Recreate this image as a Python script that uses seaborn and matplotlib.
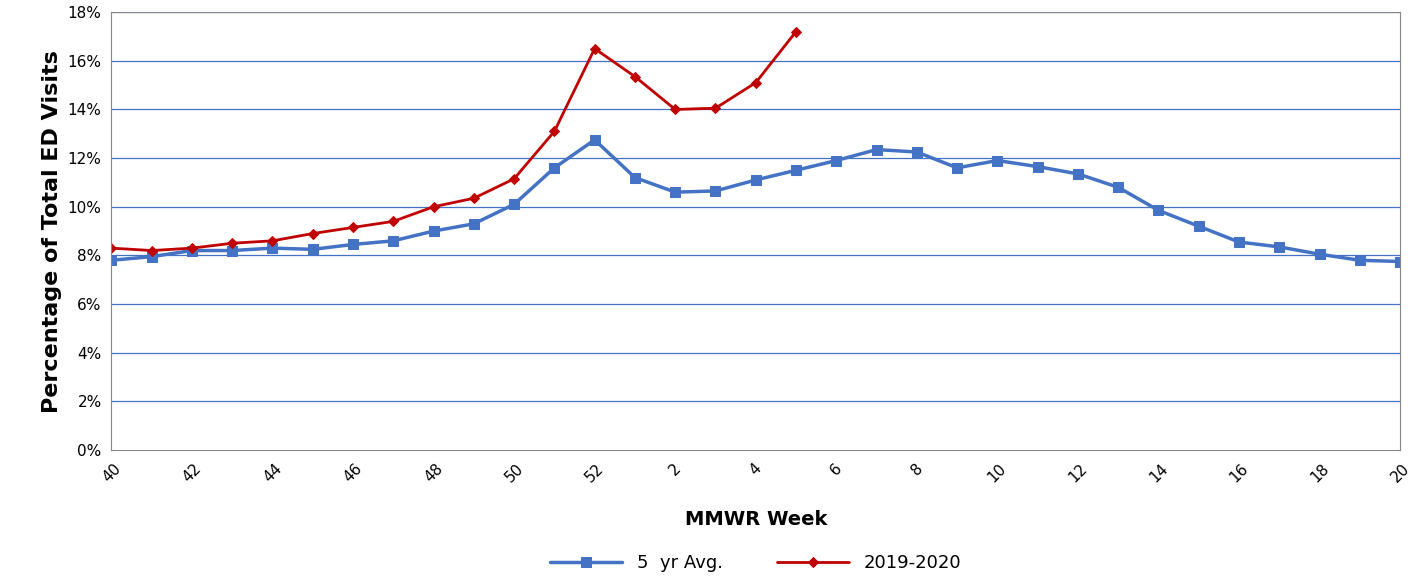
import matplotlib
matplotlib.use("Agg")
import matplotlib.pyplot as plt
import seaborn as sns
import pandas as pd

weeks = list(range(40, 53)) + list(range(1, 21))
avg5 = [7.8, 7.95, 8.2, 8.2, 8.3, 8.25, 8.45, 8.6, 9.0, 9.3, 10.1, 11.6, 12.75,
        11.2, 10.6, 10.65, 11.1, 11.5, 11.9, 12.35, 12.25, 11.6, 11.9, 11.65, 11.35,
        10.8, 9.85, 9.2, 8.55, 8.35, 8.05, 7.8, 7.75]
cur = [8.3, 8.2, 8.3, 8.5, 8.6, 8.9, 9.15, 9.4, 10.0, 10.35, 11.15, 13.1, 16.5,
       15.35, 14.0, 14.05, 15.1, 17.2]

df = pd.DataFrame({"pos": range(len(weeks)), "week": weeks, "avg": avg5})
df2 = pd.DataFrame({"pos": range(len(cur)), "val": cur})

sns.set_style("white")
plt.rcParams["font.family"] = ["DejaVu Sans"]
plt.rcParams["text.color"] = "black"
fig, ax = plt.subplots(figsize=(14.1, 5.77), dpi=100)
fig.subplots_adjust(left=0.079, right=0.993, top=0.979, bottom=0.22)

for y in range(2, 19, 2):
    ax.axhline(y, color="#4472c4", lw=0.9, zorder=0)

sns.lineplot(data=df, x="pos", y="avg", ax=ax, color="#4472c4", lw=2.5,
             marker="s", markersize=7, markeredgecolor="#4472c4", label="5  yr Avg.")
sns.lineplot(data=df2, x="pos", y="val", ax=ax, color="#c00000", lw=2,
             marker="D", markersize=5.5, markeredgecolor="#c00000", label="2019-2020")

ax.set_xlim(0, len(weeks) - 1)
ax.set_ylim(0, 18)
ax.set_xticks(range(0, len(weeks), 2))
ax.set_xticklabels([str(w) for w in weeks[::2]], rotation=45, fontsize=11, color="black")
ax.set_yticks(range(0, 19, 2))
ax.set_yticklabels([f"{v}%" for v in range(0, 19, 2)], fontsize=11, color="black")
ax.set_xlabel("MMWR Week", fontsize=14, fontweight="bold", color="black", labelpad=18)
ax.set_ylabel("Percentage of Total ED Visits", fontsize=16, fontweight="bold", color="black")
for s in ax.spines.values():
    s.set_color("#888888")
ax.tick_params(axis="x", length=4, color="#888888")
ax.legend(loc="upper center", bbox_to_anchor=(0.5, -0.2), ncol=2, frameon=False,
          fontsize=13, handlelength=4, columnspacing=3)
fig.savefig("out.png", dpi=100)
